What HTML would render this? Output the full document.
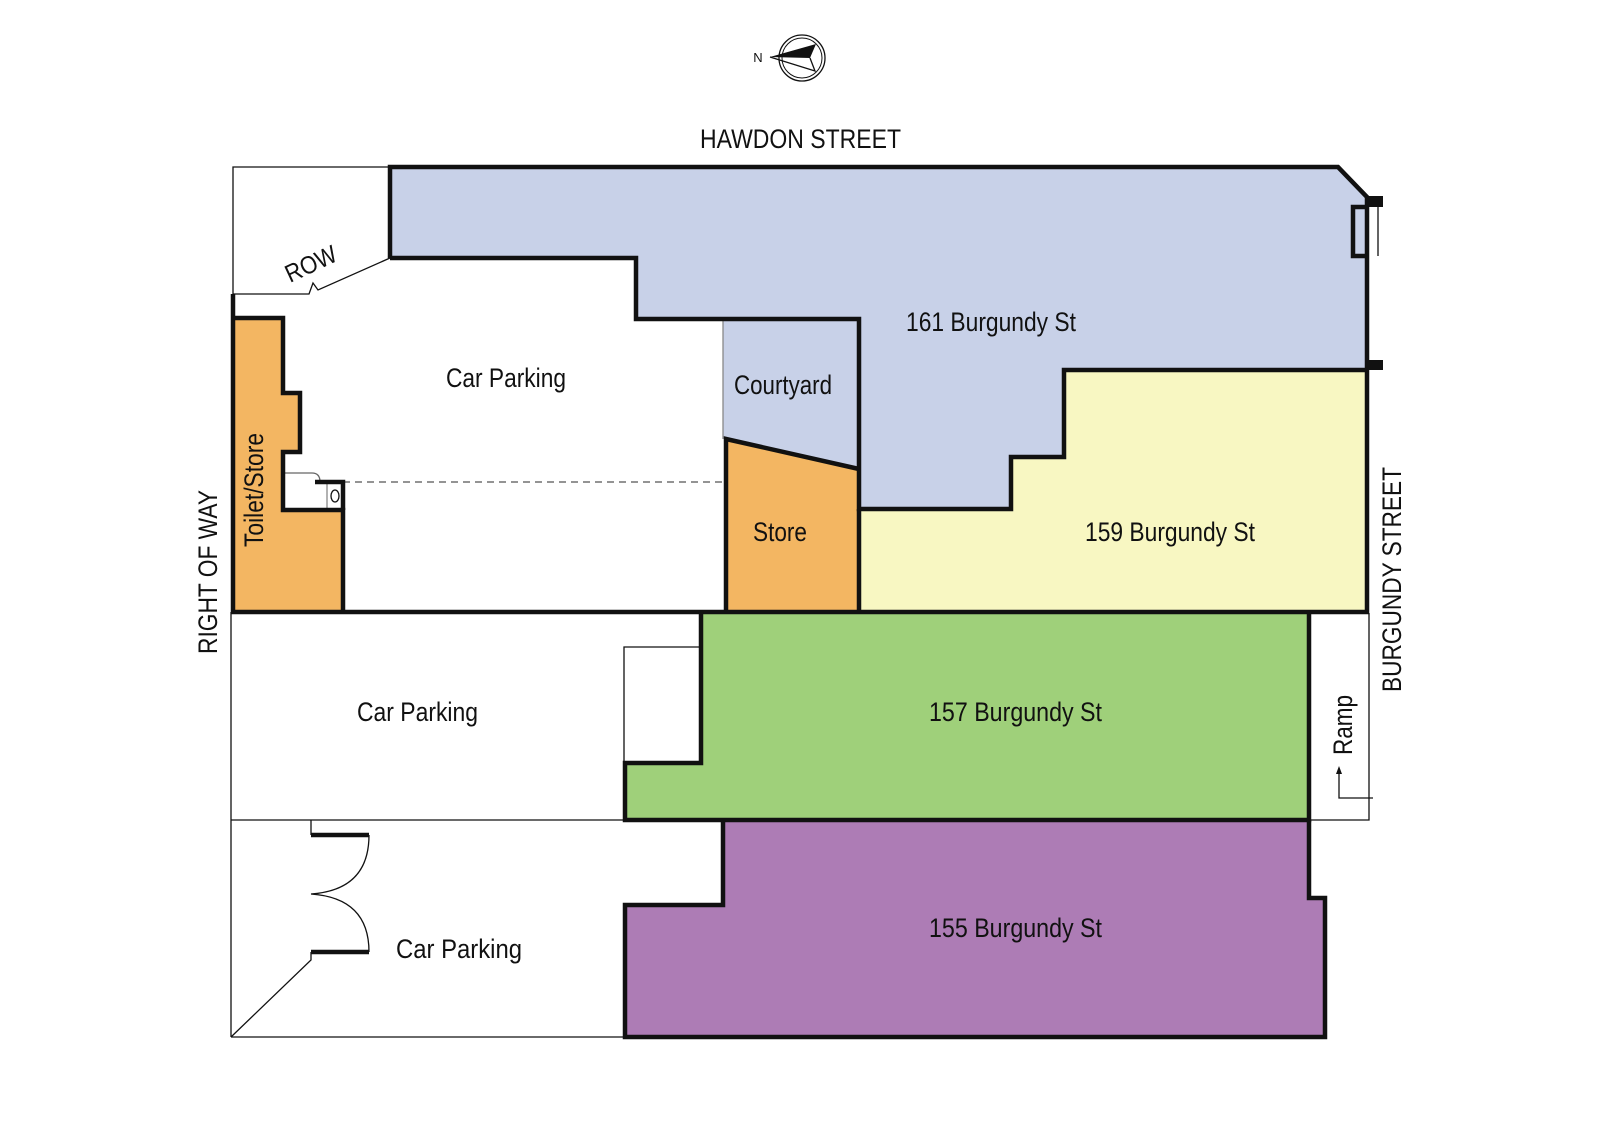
<!DOCTYPE html>
<html><head><meta charset="utf-8"><style>
html,body{margin:0;padding:0;background:#fff;}
svg{display:block}
text{font-family:"Liberation Sans",sans-serif;fill:#111;}
</style></head><body>
<svg width="1600" height="1131" viewBox="0 0 1600 1131" xmlns="http://www.w3.org/2000/svg">
<polygon points="390,167 1338,167 1367,197 1367,370 1064,370 1064,457 1011,457 1011,509 859,509 859,319 636,319 636,258 390,258" fill="#c8d1e8"/>
<polygon points="723,319 859,319 859,469 726,439 723,439" fill="#c8d1e8"/>
<polygon points="726,439 859,469 859,612 726,612" fill="#f3b662"/>
<polygon points="233,318 283,318 283,393 300,393 300,452 283,452 283,510 343,510 343,612 233,612" fill="#f3b662"/>
<polygon points="859,509 1011,509 1011,457 1064,457 1064,370 1367,370 1367,613 859,613" fill="#f8f7c2"/>
<polygon points="701,613 1309,613 1309,820 625,820 625,763 701,763" fill="#9fd07a"/>
<polygon points="723,820 1309,820 1309,898 1325,898 1325,1037 625,1037 625,905 723,905" fill="#ad7cb5"/>

<g fill="none" stroke="#111" stroke-width="1.3">
<polyline points="390,167 233,167 233,294 309,294 313,283 318,290 390,258"/>
<line x1="723" y1="319" x2="723" y2="439" stroke="#888"/>
<line x1="231" y1="612" x2="231" y2="1037"/>
<line x1="231" y1="820" x2="625" y2="820"/>
<line x1="231" y1="1037" x2="625" y2="1037"/>
<polyline points="701,647 624,647 624,763"/>
<polyline points="1309,820 1369,820 1369,613"/>
<polyline points="1339,773 1339,798 1373,798"/>
<polyline points="311,820 311,835"/>
<polyline points="311,952 311,960 231,1037"/>
<path d="M369,835 Q369,890 311,894 Q369,898 369,952"/>
<line x1="1378" y1="207" x2="1378" y2="256"/>
<path d="M283,482 V473 H312 Q320,473 320,482" stroke="#666"/>
<line x1="327" y1="482" x2="327" y2="510" stroke="#888"/>
<ellipse cx="335" cy="496" rx="4" ry="6"/>
<line x1="343" y1="482" x2="726" y2="482" stroke="#555" stroke-dasharray="7,5"/>
</g>
<polygon points="1339,766 1336,774 1342,774" fill="#111"/>

<g fill="none" stroke="#111" stroke-width="4.5" stroke-linejoin="miter">
<polyline points="390,258 390,167 1338,167 1367,197 1367,613"/>
<polyline points="390,258 636,258 636,319 859,319 859,509 1011,509 1011,457 1064,457 1064,370 1367,370"/>
<polyline points="1367,207 1353,207 1353,256 1367,256"/>
<polyline points="726,612 726,439 859,469"/>
<line x1="859" y1="509" x2="859" y2="612"/>
<polyline points="233,294 233,612"/>
<polyline points="233,318 283,318 283,393 300,393 300,452 283,452 283,510 343,510 343,612"/>
<polyline points="315,482 343,482 343,510"/>
<line x1="231" y1="612" x2="1369" y2="612"/>
<polyline points="701,612 701,763 625,763 625,820 1309,820 1309,612"/>
<polyline points="723,820 723,905 625,905 625,1037 1325,1037 1325,898 1309,898 1309,820"/>
<line x1="311" y1="835" x2="369" y2="835"/>
<line x1="311" y1="952" x2="369" y2="952"/>
</g>
<rect x="1367" y="196" width="16" height="11" fill="#111"/>
<rect x="1367" y="360" width="16" height="10" fill="#111"/>

<circle cx="802" cy="58" r="23" fill="none" stroke="#111" stroke-width="1.3"/>
<circle cx="802" cy="58" r="20" fill="none" stroke="#111" stroke-width="1"/>
<polygon points="770,57 816,44 810,58" fill="#111"/>
<polyline points="770,57 815,71 810,58" fill="none" stroke="#111" stroke-width="1.3"/>
<text x="758" y="62" font-size="13" text-anchor="middle">N</text>

<text x="700" y="148" font-size="27" textLength="201" lengthAdjust="spacingAndGlyphs">HAWDON STREET</text>
<text x="906" y="331" font-size="27" textLength="170" lengthAdjust="spacingAndGlyphs">161 Burgundy St</text>
<text x="446" y="387" font-size="27" textLength="120" lengthAdjust="spacingAndGlyphs">Car Parking</text>
<text x="734" y="394" font-size="27" textLength="98" lengthAdjust="spacingAndGlyphs">Courtyard</text>
<text x="753" y="541" font-size="27" textLength="54" lengthAdjust="spacingAndGlyphs">Store</text>
<text x="1085" y="541" font-size="27" textLength="170" lengthAdjust="spacingAndGlyphs">159 Burgundy St</text>
<text x="357" y="721" font-size="27" textLength="121" lengthAdjust="spacingAndGlyphs">Car Parking</text>
<text x="929" y="721" font-size="27" textLength="173" lengthAdjust="spacingAndGlyphs">157 Burgundy St</text>
<text x="929" y="937" font-size="27" textLength="173" lengthAdjust="spacingAndGlyphs">155 Burgundy St</text>
<text x="396" y="958" font-size="27" textLength="126" lengthAdjust="spacingAndGlyphs">Car Parking</text>
<text transform="translate(263,547) rotate(-90)" font-size="27" textLength="114" lengthAdjust="spacingAndGlyphs">Toilet/Store</text>
<text transform="translate(217,654) rotate(-90)" font-size="27" textLength="164" lengthAdjust="spacingAndGlyphs">RIGHT OF WAY</text>
<text transform="translate(1401,692) rotate(-90)" font-size="27" textLength="225" lengthAdjust="spacingAndGlyphs">BURGUNDY STREET</text>
<text transform="translate(1352,755) rotate(-90)" font-size="27" textLength="60" lengthAdjust="spacingAndGlyphs">Ramp</text>
<text transform="translate(290,283) rotate(-25)" font-size="25" textLength="54" lengthAdjust="spacingAndGlyphs">ROW</text>
</svg>
</body></html>
